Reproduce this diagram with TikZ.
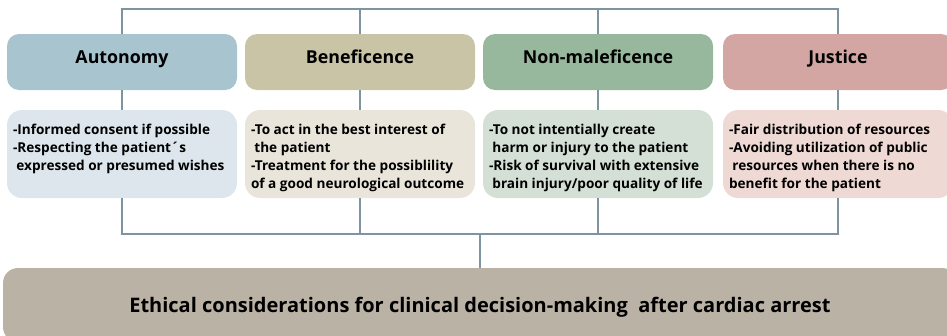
\documentclass[tikz,border=0pt]{standalone}
\usepackage{fontspec}
\setmainfont{Open Sans}
\usepackage{tikz}
\usetikzlibrary{positioning}

\definecolor{linegray}{HTML}{7E94A0}
\definecolor{autohead}{HTML}{A7C4CF}
\definecolor{autodet}{HTML}{DCE6EC}
\definecolor{benehead}{HTML}{CAC4A7}
\definecolor{benedet}{HTML}{E9E5DB}
\definecolor{nonhead}{HTML}{97B89C}
\definecolor{nondet}{HTML}{D4E0D5}
\definecolor{justhead}{HTML}{D4A6A3}
\definecolor{justdet}{HTML}{EED9D4}
\definecolor{ethicsfill}{HTML}{BBB2A6}

\newcommand{\dettext}[1]{\parbox[c][74pt][t]{218pt}{\vspace*{7pt}#1}}
\newcommand{\ind}{\hspace*{0.25em}}

\begin{document}
\begin{tikzpicture}
	[x=1pt,y=-1pt,
	head/.style={rectangle,rounded corners=12pt,fill=#1,inner sep=0pt,minimum width=230pt,minimum height=56pt,text height=8pt,text depth=6pt,font=\fontsize{17.8}{20}\selectfont\bfseries},
	detail/.style={rectangle,rounded corners=15pt,fill=#1,inner sep=0pt,minimum width=230pt,minimum height=88pt,font=\fontsize{13.6}{18}\selectfont\bfseries},
	bar/.style={draw=linegray,line width=2.5pt}]
	\useasboundingbox (0,0) rectangle (947,335);
	% principles
	\node (autonomy) at (122,62) [head=autohead] {Autonomy};
	\node (beneficence) at (360,62) [head=benehead] {Beneficence};
	\node (nonmal) at (598,62) [head=nonhead] {Non-maleficence};
	\node (justice) at (838,62) [head=justhead] {Justice};
	% details
	\node (autodet) at (122,154) [detail=autodet] {\dettext{-Informed consent if possible\\
		-Respecting the patient´s\\
		\ind expressed or presumed wishes}};
	\node (benedet) at (360,154) [detail=benedet] {\dettext{-To act in the best interest of\\
		\ind the patient\\
		-Treatment for the possiblility\\
		of a good neurological outcome}};
	\node (nondet) at (598,154) [detail=nondet] {\dettext{-To not intentially create\\
		\ind harm or injury to the patient\\
		-Risk of survival with extensive\\
		\ind brain injury/poor quality of life}};
	\node (justdet) at (838,154) [detail=justdet] {\dettext{-Fair distribution of resources\\
		-Avoiding utilization of public\\
		\ind resources when there is no\\
		benefit for the patient}};
	% conclusion
	\node (ethics) at (480,305) [rectangle,rounded corners=15pt,fill=ethicsfill,inner sep=0pt,minimum width=954pt,minimum height=74pt,text height=14pt,text depth=0pt,font=\fontsize{20}{24}\selectfont\bfseries] {Ethical considerations for clinical decision-making \ after cardiac arrest};
	\coordinate (top) at (0,9);
	\coordinate (bus) at (0,234);
	% connectors
	\draw [bar] (autonomy.north) |- (top -| justice.north) -- (justice.north);
	\draw [bar] (beneficence.north) -- (beneficence.north |- top);
	\draw [bar] (nonmal.north) -- (nonmal.north |- top);
	\draw [bar] (autonomy) -- (autodet);
	\draw [bar] (beneficence) -- (benedet);
	\draw [bar] (nonmal) -- (nondet);
	\draw [bar] (justice) -- (justdet);
	\draw [bar] (autodet.south) |- (bus -| justdet.south) -- (justdet.south);
	\draw [bar] (benedet.south) -- (benedet.south |- bus);
	\draw [bar] (nondet.south) -- (nondet.south |- bus);
	\draw [bar] (ethics.north) -- (ethics.north |- bus);
\end{tikzpicture}
\end{document}
